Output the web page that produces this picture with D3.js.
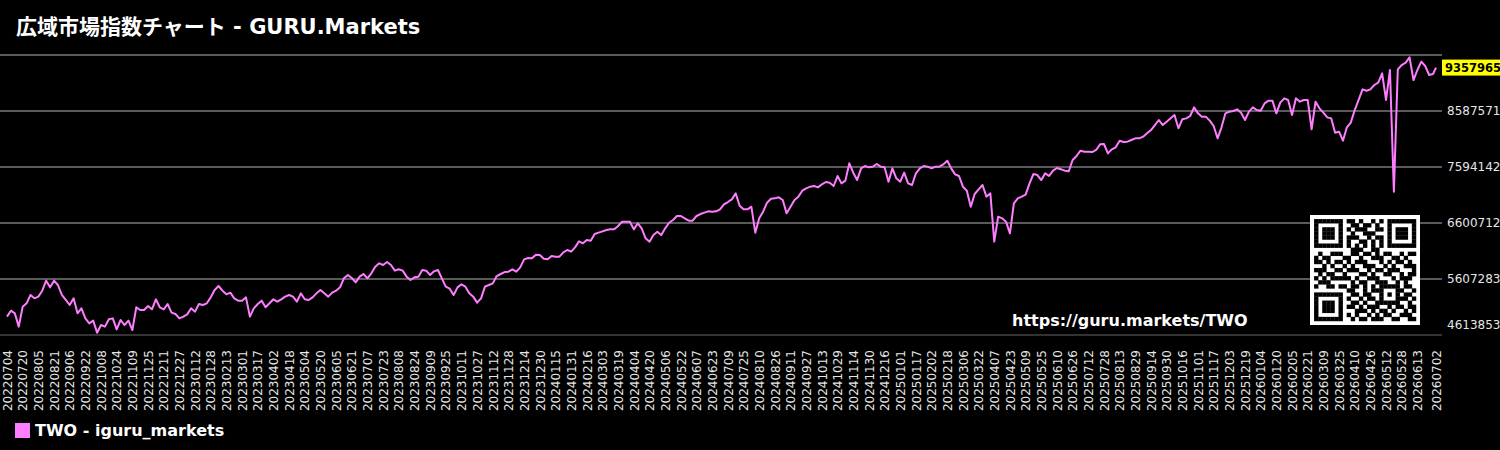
<!DOCTYPE html>
<html>
<head>
<meta charset="utf-8">
<title>広域市場指数チャート - GURU.Markets</title>
<script src="https://cdn.jsdelivr.net/npm/d3@7/dist/d3.min.js"></script>
<style>
  html, body { margin: 0; padding: 0; background: #000; }
  svg { display: block; }
  text { font-family: "DejaVu Sans", "Noto Sans CJK JP", sans-serif; }
</style>
</head>
<body>
<div id="chart"></div>
<script>
// Series: one reading every 4 days from the start date, then the last close.
var startDate = '20220704';
var stepDays = 4;
var values = [
  4939000, 5045000, 4998000, 4762000, 5116000, 5176000, 5324000, 5264000, 5294000, 5400000,
  5578000, 5459000, 5578000, 5501000, 5324000, 5235000, 5146000, 5264000, 4998000, 5087000,
  4909000, 4821000, 4868000, 4655000, 4791000, 4762000, 4892000, 4909000, 4714000, 4880000,
  4791000, 4868000, 4702000, 5105000, 5057000, 5057000, 5128000, 5069000, 5247000, 5105000,
  5069000, 5164000, 5010000, 4986000, 4909000, 4939000, 4980000, 5087000, 5028000, 5164000,
  5146000, 5176000, 5282000, 5412000, 5483000, 5400000, 5335000, 5365000, 5264000, 5223000,
  5223000, 5282000, 4939000, 5087000, 5164000, 5223000, 5105000, 5176000, 5247000, 5205000,
  5247000, 5294000, 5324000,
  5294000, 5205000, 5353000, 5247000, 5235000, 5282000, 5353000, 5412000, 5353000, 5294000,
  5365000, 5400000, 5459000, 5619000, 5678000, 5625000, 5548000, 5649000, 5696000, 5619000,
  5708000, 5826000, 5885000, 5856000, 5909000, 5856000, 5755000, 5779000, 5755000, 5649000,
  5589000, 5637000, 5649000, 5767000, 5755000, 5678000, 5743000, 5767000, 5619000, 5471000,
  5436000, 5324000, 5459000, 5513000, 5471000, 5353000, 5294000, 5188000, 5264000, 5471000,
  5501000, 5530000, 5660000, 5696000, 5731000, 5737000, 5779000, 5737000, 5814000, 5956000,
  5980000, 5974000, 6039000, 6033000, 5968000, 5956000, 6015000, 6003000, 6003000, 6080000,
  6122000, 6092000, 6169000, 6276000,
  6240000, 6299000, 6287000, 6405000, 6429000, 6453000, 6476000, 6488000, 6488000, 6547000,
  6624000, 6624000, 6624000, 6488000, 6595000, 6506000, 6329000, 6269000, 6388000, 6447000,
  6388000, 6506000, 6606000, 6654000, 6725000, 6725000, 6683000, 6642000, 6642000, 6725000,
  6760000, 6784000, 6807000, 6801000, 6807000, 6843000, 6932000, 6973000, 7020000, 7127000,
  6908000, 6843000, 6843000, 6890000, 6429000, 6683000, 6801000, 6961000, 7032000, 7038000,
  7056000, 7009000, 6772000, 6890000, 7009000, 7068000, 7174000, 7216000, 7245000, 7257000,
  7233000, 7287000, 7328000, 7316000, 7257000, 7434000, 7304000, 7352000, 7659000, 7493000,
  7363000, 7570000, 7612000, 7588000,
  7600000, 7647000, 7600000, 7588000, 7334000, 7570000, 7393000, 7334000, 7494000, 7304000,
  7275000, 7482000, 7570000, 7612000, 7600000, 7570000, 7600000, 7600000, 7641000, 7706000,
  7570000, 7464000, 7434000, 7245000, 7174000, 6890000, 7115000, 7198000, 7275000, 7068000,
  7127000, 6269000, 6713000, 6683000, 6624000, 6417000, 6950000, 7038000, 7068000, 7103000,
  7304000, 7470000, 7452000, 7363000, 7482000, 7434000, 7529000, 7576000, 7553000, 7529000,
  7517000, 7718000, 7789000, 7884000, 7866000, 7866000, 7860000, 7896000, 7996000, 8002000,
  7836000, 7907000, 7943000, 8061000, 8038000, 8043000, 8073000, 8103000, 8103000, 8132000,
  8191000, 8250000, 8339000, 8428000,
  8339000, 8398000, 8457000, 8517000, 8280000, 8440000, 8457000, 8499000, 8652000, 8546000,
  8487000, 8487000, 8416000, 8321000, 8103000, 8298000, 8546000, 8576000, 8587000, 8617000,
  8558000, 8428000, 8576000, 8652000, 8605000, 8593000, 8723000, 8771000, 8771000, 8546000,
  8735000, 8812000, 8783000, 8517000, 8812000, 8753000, 8783000, 8783000, 8262000, 8753000,
  8635000, 8558000, 8475000, 8457000, 8203000, 8221000, 8061000, 8298000, 8381000, 8605000,
  8783000, 8972000, 8948000, 8972000, 9049000, 9090000, 9256000, 8783000, 9315000, 7157000,
  9327000, 9403000, 9445000, 9540000, 9137000, 9315000, 9463000, 9386000, 9226000, 9244000
];
var lastDate = '20260702';
var lastValue = 9357965;

// Horizontal grid values (the top one carries no label).
var yTicks = [4613853, 5607283, 6600712, 7594142, 8587571, 9581000];

// Date labels under the chart.
var xTickLabels = [
  '20220704', '20220720', '20220805', '20220821', '20220906', '20220922', '20221008', '20221024',
  '20221109', '20221125', '20221211', '20221227', '20230112', '20230128', '20230213', '20230301',
  '20230317', '20230402', '20230418', '20230504', '20230520', '20230605', '20230621', '20230707',
  '20230723', '20230808', '20230824', '20230909', '20230925', '20231011', '20231027', '20231112',
  '20231128', '20231214', '20231230', '20240115', '20240131', '20240216', '20240303', '20240319',
  '20240404', '20240420', '20240506', '20240522', '20240607', '20240623', '20240709', '20240725',
  '20240810', '20240826', '20240911', '20240927', '20241013', '20241029', '20241114', '20241130',
  '20241216', '20250101', '20250117', '20250202', '20250218', '20250306', '20250322', '20250407',
  '20250423', '20250509', '20250525', '20250610', '20250626', '20250712', '20250728', '20250813',
  '20250829', '20250914', '20250930', '20251016', '20251101', '20251117', '20251203', '20251219',
  '20260104', '20260120', '20260205', '20260221', '20260309', '20260325', '20260410', '20260426',
  '20260512', '20260528', '20260613', '20260702'
];

var title = '広域市場指数チャート - GURU.Markets';
var seriesName = 'TWO - iguru_markets';
var siteUrl = 'https://guru.markets/TWO';

// QR code modules (1 = dark).
var qrRows = [
  '1111111011010010101111111',
  '1000001001101101001000001',
  '1011101010111001101011101',
  '1011101001001110001011101',
  '1011101011100101101011101',
  '1000001010011010101000001',
  '1111111010101010101111111',
  '0000000001110011000000000',
  '0100111001101101011001011',
  '1011000110010011100110100',
  '1101011010111000101011010',
  '0010100101001110010100111',
  '1110011011100101101110001',
  '0101100100011010011001011',
  '1010111110100111000101110',
  '0111000001011001110010100',
  '1001101101101010111110110',
  '0000000011001011100011001',
  '1111111001101100101010110',
  '1000001010010110100011101',
  '1011101001101001111110010',
  '1011101011010111001011011',
  '1011101000111010110100101',
  '1000001010100101011001110',
  '1111111001011011100110011'
];

(function (d3) {
    'use strict';

    var width = 1500;
    var height = 450;
    var lineColor = '#ff7dff';

    var parseDate = d3.timeParse('%Y%m%d');
    var formatDate = d3.timeFormat('%Y%m%d');
    var start = parseDate(startDate);
    var end = parseDate(lastDate);

    var points = values.map(function (v, i) {
        return {date: d3.timeDay.offset(start, i * stepDays), value: v};
    });
    points.push({date: end, value: lastValue});

    // Scales.
    var x = d3.scaleTime().domain([start, end]).range([7, 1436]);
    var y = d3.scaleLinear()
        .domain([yTicks[0], yTicks[yTicks.length - 1]])
        .range([335, 55]);

    var svg = d3.select('#chart').append('svg')
        .attr('width', width)
        .attr('height', height)
        .style('background', '#000');

    // Title
    svg.append('text')
        .attr('x', 16)
        .attr('y', 34)
        .attr('fill', '#fff')
        .style('font-size', '21px')
        .style('font-weight', 'bold')
        .text(title);

    // Grid lines
    svg.append('g')
        .selectAll('line')
        .data(yTicks)
        .enter().append('line')
        .attr('x1', 0)
        .attr('x2', 1442)
        .attr('y1', function (d) { return y(d); })
        .attr('y2', function (d) { return y(d); })
        .attr('stroke', function (d, i) { return i === 0 ? '#333' : '#5a5a5a'; })
        .attr('stroke-width', 2);

    // Right-hand value labels
    svg.append('g')
        .selectAll('text')
        .data(yTicks.slice(0, yTicks.length - 1))
        .enter().append('text')
        .attr('x', 1447)
        .attr('y', function (d, i) { return y(d) - (i === 0 ? 10 : 0); })
        .attr('dy', '0.35em')
        .attr('fill', '#e6e6e6')
        .style('font-size', '12px')
        .text(function (d) { return d; });

    // Watermark url
    svg.append('text')
        .attr('x', 1012)
        .attr('y', 326)
        .attr('fill', '#fff')
        .style('font-size', '16px')
        .style('font-weight', 'bold')
        .text(siteUrl);

    // QR code
    var qr = svg.append('g').attr('transform', 'translate(1310,215)');
    var cell = 110 / (qrRows.length + 2);
    qr.append('rect')
        .attr('width', 110)
        .attr('height', 110)
        .attr('fill', '#fff');
    qrRows.forEach(function (row, r) {
        row.split('').forEach(function (c, k) {
            if (c === '1') {
                qr.append('rect')
                    .attr('x', (k + 1) * cell)
                    .attr('y', (r + 1) * cell)
                    .attr('width', cell + 0.3)
                    .attr('height', cell + 0.3)
                    .attr('fill', '#000');
            }
        });
    });

    // The index line
    var valueLine = d3.line()
        .x(function (d) { return x(d.date); })
        .y(function (d) { return y(d.value); });

    svg.append('path')
        .datum(points)
        .attr('fill', 'none')
        .attr('stroke', lineColor)
        .attr('stroke-width', 2)
        .attr('stroke-linejoin', 'round')
        .attr('d', valueLine);

    // Last value tag
    var tag = svg.append('g').attr('transform', 'translate(1442,' + y(lastValue) + ')');
    tag.append('rect')
        .attr('x', 0)
        .attr('y', -8)
        .attr('width', 58)
        .attr('height', 16)
        .attr('fill', '#ffff00');
    tag.append('text')
        .attr('x', 3)
        .attr('dy', '0.35em')
        .attr('fill', '#000')
        .style('font-size', '11.5px')
        .style('font-weight', 'bold')
        .text(lastValue);

    // Date axis
    var xAxis = svg.append('g')
        .attr('transform', 'translate(0,343)')
        .call(d3.axisBottom(x)
            .tickValues(xTickLabels.map(parseDate))
            .tickFormat(formatDate)
            .tickSize(0));
    xAxis.select('.domain').remove();
    xAxis.selectAll('text')
        .attr('transform', 'rotate(-90)')
        .attr('x', -7)
        .attr('y', 0)
        .attr('dy', '0.35em')
        .attr('fill', '#e6e6e6')
        .style('text-anchor', 'end')
        .style('font-size', '12px')
        .style('font-family', '"DejaVu Sans", sans-serif');

    // Legend
    svg.append('rect')
        .attr('x', 15)
        .attr('y', 423)
        .attr('width', 15)
        .attr('height', 15)
        .attr('fill', lineColor);
    svg.append('text')
        .attr('x', 35)
        .attr('y', 436)
        .attr('fill', '#fff')
        .style('font-size', '16px')
        .style('font-weight', 'bold')
        .text(seriesName);
})(d3);
</script>
</body>
</html>
